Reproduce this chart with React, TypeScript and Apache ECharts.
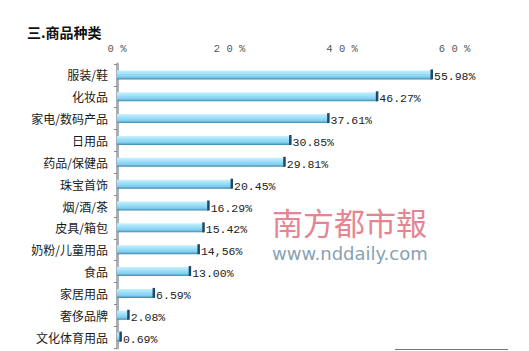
import React, { useEffect, useRef } from "react";
import * as echarts from "echarts";

const title = "三.商品种类";
const categories = [
  "服装/鞋", "化妆品", "家电/数码产品", "日用品", "药品/保健品", "珠宝首饰",
  "烟/酒/茶", "皮具/箱包", "奶粉/儿童用品", "食品", "家居用品", "奢侈品牌", "文化体育用品",
];
const values = [55.98, 46.27, 37.61, 30.85, 29.81, 20.45, 16.29, 15.42, 14.56, 13.0, 6.59, 2.08, 0.69];
const valueLabels = [
  "55.98%", "46.27%", "37.61%", "30.85%", "29.81%", "20.45%", "16.29%", "15.42%",
  "14,56%", "13.00%", "6.59%", "2.08%", "0.69%",
];
const tickLabels: Record<number, string> = { 0: "0 %", 20: "2 0 %", 40: "4 0 %", 60: "6 0 %" };
const watermarkCn = "南方都市報";
const watermarkUrl = "www.nddaily.com";

export default function App() {
  const ref = useRef<HTMLDivElement>(null);
  useEffect(() => {
    document.body.style.margin = "0";
    const chart = echarts.init(ref.current!, null, { renderer: "svg" });
    chart.setOption({
      animation: false,
      backgroundColor: "#ffffff",
      grid: { left: 117, right: 74.4, top: 64, bottom: 3, containLabel: false },
      xAxis: {
        type: "value",
        position: "top",
        min: 0,
        max: 60,
        interval: 20,
        axisLine: { show: false },
        axisTick: { show: false },
        splitLine: { show: false },
        axisLabel: {
          margin: 10,
          fontFamily: "Liberation Mono, DejaVu Sans Mono, monospace",
          fontSize: 10.5,
          color: "#555",
          formatter: (v: number) => tickLabels[v] ?? String(v),
        },
      },
      yAxis: {
        type: "category",
        data: categories,
        inverse: true,
        axisLine: { show: true, lineStyle: { color: "#a9b0b5", width: 3 } },
        axisTick: { show: true, inside: false, length: 3, lineStyle: { color: "#888" } },
        axisLabel: {
          margin: 9,
          fontFamily: "Noto Sans CJK SC, sans-serif",
          fontSize: 12,
          color: "#1a1a1a",
        },
      },
      series: [
        {
          type: "bar",
          data: values,
          barWidth: 9,
          itemStyle: {
            color: new echarts.graphic.LinearGradient(0, 0, 0, 1, [
              { offset: 0, color: "#c8f1fd" },
              { offset: 0.45, color: "#98ddf7" },
              { offset: 0.75, color: "#80cdee" },
              { offset: 1, color: "#3f86aa" },
            ]),
          },
          label: {
            show: true,
            position: "right",
            distance: 2,
            offset: [0, 2],
            fontFamily: "Liberation Mono, DejaVu Sans Mono, monospace",
            fontSize: 11.5,
            color: "#222",
            formatter: (p: any) => valueLabels[p.dataIndex],
          },
        },
        {
          type: "custom",
          data: values.map((v, i) => [v, i]),
          encode: { x: 0, y: 1 },
          z: 3,
          renderItem: (params: any, api: any) => {
            const p = api.coord([api.value(0), api.value(1)]);
            return {
              type: "rect",
              shape: { x: p[0] - 1.5, y: p[1] - 5.5, width: 2.5, height: 10 },
              style: { fill: "#1d4a66" },
            };
          },
        },
      ],
      graphic: [
        {
          type: "text",
          x: 27,
          y: 25,
          style: {
            text: title,
            font: "bold 14px 'Noto Sans CJK SC', sans-serif",
            fill: "#111",
            textAlign: "left",
            textVerticalAlign: "top",
          },
        },
        {
          type: "text",
          x: 272,
          y: 206,
          style: {
            text: watermarkCn,
            font: "31px 'Noto Sans CJK SC', sans-serif",
            fill: "#e58592",
            textAlign: "left",
            textVerticalAlign: "top",
          },
        },
        {
          type: "text",
          x: 272,
          y: 244,
          style: {
            text: watermarkUrl,
            font: "18px 'DejaVu Sans', sans-serif",
            fill: "#86a2b4",
            textAlign: "left",
            textVerticalAlign: "top",
          },
        },
        {
          type: "line",
          shape: { x1: 395, y1: 349.5, x2: 508, y2: 349.5 },
          style: { stroke: "#777", lineWidth: 1 },
        },
      ],
    });
    return () => chart.dispose();
  }, []);
  return (
    <div
      ref={ref}
      style={{ position: "absolute", left: 0, top: 0, width: 529, height: 351 }}
    />
  );
}
